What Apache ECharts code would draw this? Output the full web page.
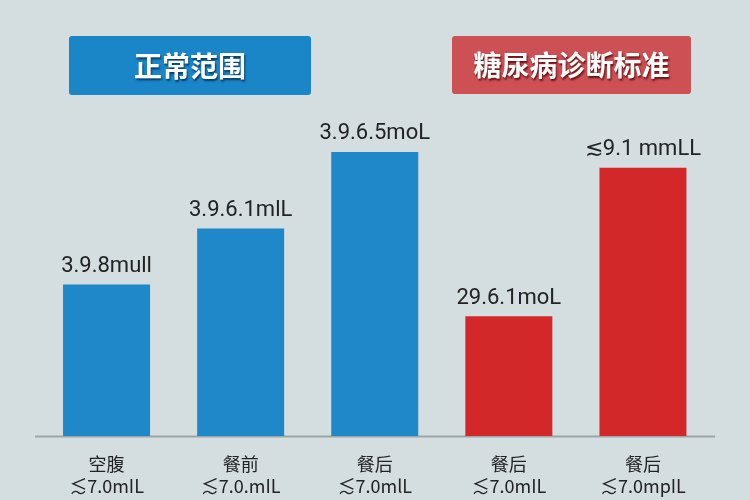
<!DOCTYPE html>
<html>
<head>
<meta charset="utf-8">
<script src="https://cdn.jsdelivr.net/npm/echarts@6/dist/echarts.min.js"></script>
<style>
html,body{margin:0;padding:0;background:#d4dde0;}
#c{width:750px;height:500px;}
</style>
</head>
<body>
<div id="c"></div>
<script>
// Data
var categories = ['空腹\n≲7.0mIL', '餐前\n≲7.0.mIL', '餐后\n≲7.0mlL', '餐后\n≲7.0mIL', '餐后\n≲7.0mpIL'];
var values = [3.8, 5.2, 7.12, 3.0, 6.72];
var valueLabels = ['3.9.8mull', '3.9.6.1mlL', '3.9.6.5moL', '29.6.1moL', '≲9.1 mmLL'];
var groups = ['normal', 'normal', 'normal', 'diabetes', 'diabetes'];
var groupTitles = ['正常范围', '糖尿病诊断标准'];

var colors = { normal: '#1e88c8', diabetes: '#d3282a' };

var chart = echarts.init(document.getElementById('c'));
var option = {
  backgroundColor: '#d4dde0',
  animation: false,
  grid: { left: 39.5, right: 40, top: 37, bottom: 64 },
  xAxis: {
    type: 'category',
    data: categories,
    axisLine: { show: false },
    axisTick: { show: false },
    axisLabel: {
      color: '#222',
      fontSize: 18,
      lineHeight: 22,
      margin: 17,
      fontFamily: 'Noto Sans CJK SC, Roboto, sans-serif'
    }
  },
  yAxis: {
    type: 'value',
    min: 0, max: 10,
    show: false
  },
  series: [{
    type: 'bar',
    barWidth: 87,
    data: values.map(function (v, i) {
      return { value: v, itemStyle: { color: colors[groups[i]] } };
    }),
    label: {
      show: true,
      position: 'top',
      distance: 7,
      color: '#222',
      fontSize: 22,
      fontFamily: 'Roboto, Noto Sans, sans-serif',
      formatter: function (p) { return valueLabels[p.dataIndex]; }
    }
  }],
  graphic: [
    {
      type: 'line',
      shape: { x1: 35, y1: 436.5, x2: 715, y2: 436.5 },
      style: { stroke: '#9ca5a8', lineWidth: 2 },
      z: 0
    },
    {
      type: 'rect',
      shape: { x: 69, y: 36, width: 242, height: 59, r: 3 },
      style: { fill: '#1a86c7' }
    },
    {
      type: 'text',
      x: 190, y: 66,
      style: {
        text: groupTitles[0],
        fill: '#fff',
        font: 'bold 28px "Noto Sans CJK SC", sans-serif',
        align: 'center', verticalAlign: 'middle',
        textShadowColor: 'rgba(0,40,80,0.8)', textShadowBlur: 2, textShadowOffsetX: 1, textShadowOffsetY: 2
      }
    },
    {
      type: 'rect',
      shape: { x: 452, y: 36, width: 239, height: 58, r: 3 },
      style: { fill: '#cd5054' }
    },
    {
      type: 'text',
      x: 571.5, y: 65,
      style: {
        text: groupTitles[1],
        fill: '#fff',
        font: 'bold 28px "Noto Sans CJK SC", sans-serif',
        align: 'center', verticalAlign: 'middle',
        textShadowColor: 'rgba(90,10,10,0.9)', textShadowBlur: 2, textShadowOffsetX: 1, textShadowOffsetY: 2
      }
    }
  ]
};
chart.setOption(option);
</script>
</body>
</html>
